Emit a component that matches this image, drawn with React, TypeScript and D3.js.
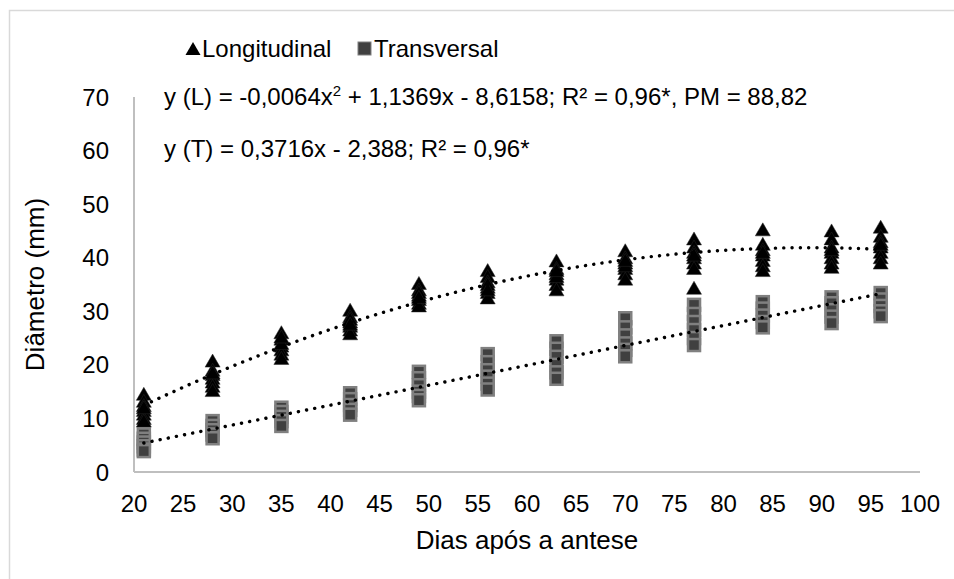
import React from "react";
import * as d3 from "d3";

const days = [21, 28, 35, 42, 49, 56, 63, 70, 77, 84, 91, 96];

const longitudinal: number[][] = [
  [14.5, 13.2, 12.4, 11.5, 10.8, 10.0, 9.5, 12.0],
  [20.7, 19.0, 18.2, 17.5, 16.8, 16.0, 15.2, 18.5],
  [26.0, 24.8, 23.5, 22.8, 22.0, 21.2, 24.0, 25.2],
  [30.2, 29.0, 28.0, 27.2, 26.5, 25.8, 28.5, 27.6],
  [35.2, 34.0, 33.0, 32.2, 31.5, 31.0, 33.5, 32.6],
  [37.6, 36.5, 35.5, 34.5, 33.5, 32.5, 35.0, 34.0],
  [39.4, 38.0, 37.0, 36.0, 35.0, 34.0, 36.5, 37.6],
  [41.3, 40.0, 39.0, 38.0, 37.0, 36.0, 38.5, 39.5],
  [43.5, 42.0, 41.0, 40.0, 39.0, 38.0, 34.3, 40.5],
  [45.2, 42.5, 41.5, 40.5, 39.5, 38.5, 37.6, 41.0],
  [45.0, 43.5, 42.0, 41.0, 40.0, 39.0, 38.2, 41.5],
  [45.7, 44.0, 43.0, 42.0, 41.0, 40.0, 39.0, 42.5],
];

const transversal: number[][] = [
  [7.0, 6.2, 5.5, 4.8, 4.2, 3.9],
  [9.5, 8.6, 7.8, 7.0, 6.3],
  [12.0, 11.2, 10.3, 9.5, 8.6],
  [14.7, 13.6, 12.5, 11.6, 10.7],
  [18.7, 17.5, 16.2, 15.0, 14.2, 13.4],
  [22.0, 20.5, 19.0, 17.8, 16.5, 15.4],
  [24.4, 23.0, 21.5, 20.0, 18.6, 17.4],
  [28.7, 27.0, 25.5, 24.0, 22.8, 21.6],
  [31.2, 29.5, 28.0, 26.5, 25.0, 23.7],
  [31.7, 30.5, 29.2, 28.0, 27.0],
  [32.6, 31.5, 30.2, 29.0, 27.8],
  [33.4, 32.2, 31.0, 30.0, 29.1],
];

// regression coefficients shown in the chart
const quadL = [-0.0064, 1.1369, -8.6158];
const linT = [0.3716, -2.388];

const xTicks = [20, 25, 30, 35, 40, 45, 50, 55, 60, 65, 70, 75, 80, 85, 90, 95, 100];
const yTicks = [0, 10, 20, 30, 40, 50, 60, 70];

const legendLabels = ["Longitudinal", "Transversal"];
const xTitle = "Dias após a antese";
const yTitle = "Diâmetro (mm)";

const W = 954;
const H = 579;
const left = 134;
const right = 920;
const top = 97;
const bottom = 472;

const FONT = "'Liberation Sans', Arial, sans-serif";

export default function App() {
  const x = d3.scaleLinear().domain([20, 100]).range([left, right]);
  const y = d3.scaleLinear().domain([0, 70]).range([bottom, top]);

  const fitDays = d3.range(days[0], days[days.length - 1] + 0.001, 0.5);
  const line = d3
    .line<[number, number]>()
    .x((d) => x(d[0]))
    .y((d) => y(d[1]))
    .curve(d3.curveLinear);
  const lPath = line(fitDays.map((t) => [t, quadL[0] * t * t + quadL[1] * t + quadL[2]]));
  const tPath = line(fitDays.map((t) => [t, linT[0] * t + linT[1]]));

  const tri = "M0,-7L7.5,6L-7.5,6Z";

  return (
    <svg
      width={W}
      height={H}
      style={{ position: "absolute", left: 0, top: 0, background: "#fff" }}
      fontFamily={FONT}
    >
      <rect x={0} y={0} width={W} height={H} fill="#fff" />
      <rect x={9.5} y={10.5} width={W + 20} height={H + 20} fill="none" stroke="#d9d9d9" strokeWidth={1.5} />

      {/* axes */}
      <line x1={left} x2={left} y1={top} y2={bottom} stroke="#bfbfbf" strokeWidth={2} />
      <line x1={left} x2={right} y1={bottom} y2={bottom} stroke="#bfbfbf" strokeWidth={2} />

      {yTicks.map((t) => (
        <text key={"y" + t} x={109} y={y(t)} dy="0.36em" textAnchor="end" fontSize={24} fill="#000">
          {t}
        </text>
      ))}
      {xTicks.map((t) => (
        <text key={"x" + t} x={x(t)} y={503} dy="0.36em" textAnchor="middle" fontSize={24} fill="#000">
          {t}
        </text>
      ))}

      <text x={(left + right) / 2} y={540} dy="0.36em" textAnchor="middle" fontSize={26} fill="#000">
        {xTitle}
      </text>
      <text
        transform={`translate(35,${(top + bottom) / 2}) rotate(-90)`}
        dy="0.36em"
        textAnchor="middle"
        fontSize={26}
        fill="#000"
      >
        {yTitle}
      </text>

      {/* transversal markers */}
      {transversal.map((vals, i) =>
        vals.map((v, j) => (
          <rect
            key={"t" + i + "-" + j}
            x={x(days[i]) - 6}
            y={y(v) - 6}
            width={12}
            height={12}
            fill="#404040"
            stroke="#808080"
            strokeWidth={2.5}
          />
        ))
      )}
      {/* longitudinal markers */}
      {longitudinal.map((vals, i) =>
        vals.map((v, j) => (
          <path
            key={"l" + i + "-" + j}
            d={tri}
            transform={`translate(${x(days[i])},${y(v)})`}
            fill="#000"
            stroke="#262626"
            strokeWidth={0.5}
          />
        ))
      )}

      {/* trend lines */}
      <path d={lPath || ""} fill="none" stroke="#000" strokeWidth={3.4} strokeLinecap="round" strokeDasharray="0.1 8.2" />
      <path d={tPath || ""} fill="none" stroke="#000" strokeWidth={3.4} strokeLinecap="round" strokeDasharray="0.1 8.2" />

      {/* legend */}
      <path d={tri} transform="translate(193,49)" fill="#000" />
      <text x={202} y={48} dy="0.36em" fontSize={24} fill="#000">
        {legendLabels[0]}
      </text>
      <rect x={358} y={42} width={13} height={13} fill="#404040" stroke="#808080" strokeWidth={1} />
      <text x={374} y={48} dy="0.36em" fontSize={24} fill="#000">
        {legendLabels[1]}
      </text>

      {/* equations */}
      <text x={164} y={96} dy="0.36em" fontSize={24} fill="#000">
        y (L) = -0,0064x
        <tspan fontSize={15} dy="-0.6em">2</tspan>
        <tspan dy="0.38em"> + 1,1369x - 8,6158; R² = 0,96*, PM = 88,82</tspan>
      </text>
      <text x={164} y={148} dy="0.36em" fontSize={24} fill="#000">
        y (T) = 0,3716x - 2,388; R² = 0,96*
      </text>
    </svg>
  );
}
